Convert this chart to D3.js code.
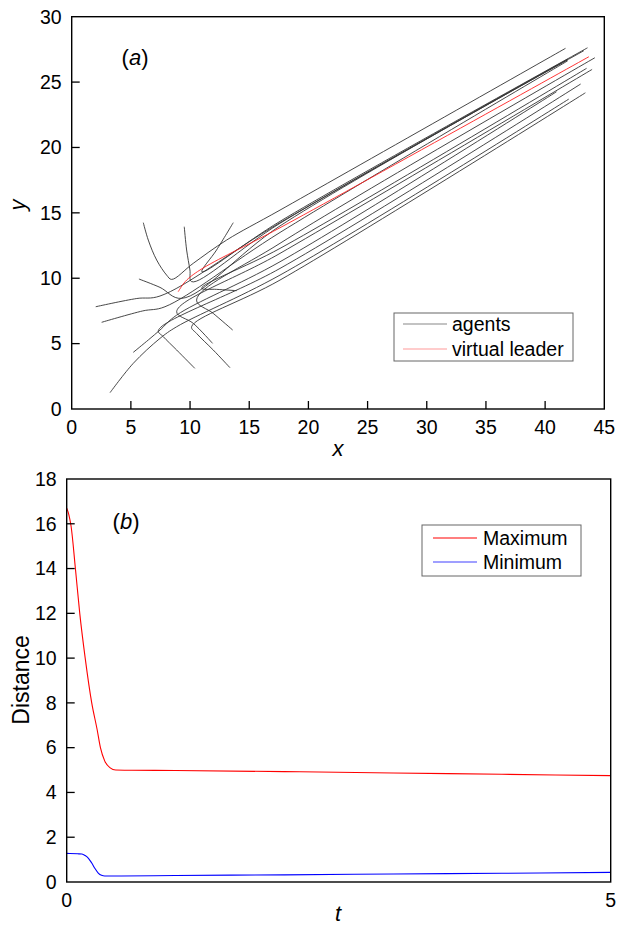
<!DOCTYPE html>
<html>
<head>
<meta charset="utf-8">
<script src="https://cdn.jsdelivr.net/npm/d3@7"></script>
<style>
  body { margin: 0; background: #fff; }
  svg { display: block; font-family: "Liberation Sans", Arial, sans-serif; }
</style>
</head>
<body>
<div id="container"></div>
<script>
// panel (a): agent trajectories, [x, y] points
const agentPaths = [
  [[6.05, 14.25], [6.47, 12.92], [7.18, 11.39], [8.02, 10.24], [8.44, 9.91], [10.27, 11.14], [13.09, 12.92], [17.6, 15.21], [41.72, 27.58]],
  [[9.51, 13.94], [9.71, 12.16], [9.99, 10.63], [10.13, 9.74], [17.6, 14.2], [41.9, 26.75]],
  [[13.65, 14.25], [12.24, 12.16], [11.0, 10.5], [17.6, 14.35], [43.58, 27.62]],
  [[5.68, 9.94], [7.46, 9.3], [9.29, 8.46], [17.6, 14.0], [41.9, 26.7]],
  [[2.03, 7.82], [5.5, 8.45], [7.46, 8.64], [17.6, 14.25], [43.27, 27.4]],
  [[2.53, 6.63], [6.0, 7.5], [7.88, 7.82], [17.6, 13.5], [41.9, 26.62]],
  [[5.2, 4.33], [6.5, 5.3], [7.46, 6.04], [8.87, 7.18], [17.6, 11.26], [40.96, 24.26]],
  [[3.24, 1.25], [5.2, 3.49], [7.46, 5.4], [8.87, 6.29], [17.6, 10.24], [42.0, 23.7]],
  [[10.4, 3.11], [8.87, 4.51], [7.74, 5.53], [7.32, 5.99], [17.6, 10.75], [43.0, 24.85]],
  [[13.37, 3.16], [11.96, 4.51], [10.55, 5.78], [10.13, 6.29], [17.6, 9.86], [43.4, 24.18]],
  [[11.9, 5.02], [10.27, 6.55], [8.87, 7.44], [17.6, 11.9], [43.97, 25.97]],
  [[13.94, 9.05], [12.24, 9.15], [10.98, 9.23], [17.6, 12.28], [43.5, 26.05]],
  [[13.6, 6.04], [11.96, 7.31], [10.55, 8.33], [17.6, 12.67], [44.2, 26.86]]
];
const leaderPath = [[9.0, 8.97], [9.6, 9.75], [10.84, 10.63], [17.6, 13.86], [43.7, 26.94]];
const xTicksA = [0, 5, 10, 15, 20, 25, 30, 35, 40, 45];
const yTicksA = [0, 5, 10, 15, 20, 25, 30];

// panel (b): distances over time
const maxT = [0, 0.02, 0.04, 0.08, 0.12, 0.17, 0.23, 0.28, 0.31, 0.35, 0.4, 0.45, 0.6, 1, 2, 3, 4, 5];
const maxValues = [16.7, 16.4, 15.9, 14.0, 12.0, 10.0, 8.0, 6.8, 6.0, 5.4, 5.1, 5.0, 4.99, 4.98, 4.93, 4.87, 4.81, 4.75];
const minT = [0, 0.1, 0.14, 0.17, 0.2, 0.23, 0.26, 0.29, 0.32, 0.35, 0.5, 1, 2, 3, 4, 5];
const minValues = [1.28, 1.26, 1.25, 1.18, 1.06, 0.85, 0.6, 0.4, 0.3, 0.27, 0.27, 0.29, 0.32, 0.36, 0.39, 0.43];
const xTicksB = [0, 5];
const yTicksB = [0, 2, 4, 6, 8, 10, 12, 14, 16, 18];

const width = 631;
const height = 929;
const fontSize = 19.5;
const tickLen = 8;

const svg = d3
  .select("#container")
  .append("svg")
  .attr("width", width)
  .attr("height", height);

// frame, inward ticks and tick labels
function drawFrame(g, x, y, xTicks, yTicks) {
  const [x0, x1] = x.range();
  const [y0, y1] = y.range();

  g.append("g")
    .selectAll("line")
    .data(xTicks.filter((d) => d !== x.domain()[0] && d !== x.domain()[1]))
    .enter()
    .append("line")
    .attr("x1", (d) => x(d))
    .attr("x2", (d) => x(d))
    .attr("y1", y0)
    .attr("y2", y0 - tickLen)
    .attr("stroke", "#000")
    .attr("stroke-width", 1.3);

  g.append("g")
    .selectAll("line")
    .data(yTicks.filter((d) => d !== y.domain()[0] && d !== y.domain()[1]))
    .enter()
    .append("line")
    .attr("x1", x0)
    .attr("x2", x0 + tickLen)
    .attr("y1", (d) => y(d))
    .attr("y2", (d) => y(d))
    .attr("stroke", "#000")
    .attr("stroke-width", 1.3);

  g.append("rect")
    .attr("x", x0)
    .attr("y", y1)
    .attr("width", x1 - x0)
    .attr("height", y0 - y1)
    .attr("fill", "none")
    .attr("stroke", "#000")
    .attr("stroke-width", 1.4);

  g.append("g")
    .selectAll("text")
    .data(xTicks)
    .enter()
    .append("text")
    .attr("x", (d) => x(d))
    .attr("y", y0 + 25)
    .attr("text-anchor", "middle")
    .style("font-size", fontSize + "px")
    .text((d) => d);

  g.append("g")
    .selectAll("text")
    .data(yTicks)
    .enter()
    .append("text")
    .attr("x", x0 - 10)
    .attr("y", (d) => y(d))
    .attr("dy", "0.35em")
    .attr("text-anchor", "end")
    .style("font-size", fontSize + "px")
    .text((d) => d);
}

// ---------- panel (a) ----------
const xA = d3.scaleLinear().domain([0, 45]).range([71.7, 604.3]);
const yA = d3.scaleLinear().domain([0, 30]).range([409, 16.7]);

const gA = svg.append("g");

svg.append("clipPath")
  .attr("id", "clipA")
  .append("rect")
  .attr("x", xA(0))
  .attr("y", yA(30))
  .attr("width", xA(45) - xA(0))
  .attr("height", yA(0) - yA(30));

const trajLine = d3
  .line()
  .x((d) => xA(d[0]))
  .y((d) => yA(d[1]))
  .curve(d3.curveCatmullRom.alpha(0.5));

gA.append("g")
  .attr("clip-path", "url(#clipA)")
  .selectAll("path")
  .data(agentPaths)
  .enter()
  .append("path")
  .attr("d", trajLine)
  .attr("fill", "none")
  .attr("stroke", "#333")
  .attr("stroke-width", 0.9);

gA.append("path")
  .datum(leaderPath)
  .attr("d", trajLine)
  .attr("fill", "none")
  .attr("stroke", "#ff2020")
  .attr("stroke-width", 0.9);

drawFrame(gA, xA, yA, xTicksA, yTicksA);

gA.append("text")
  .attr("x", 338)
  .attr("y", 456)
  .attr("text-anchor", "middle")
  .style("font-size", "22px")
  .style("font-style", "italic")
  .text("x");

gA.append("text")
  .attr("transform", "translate(25, 205) rotate(-90)")
  .attr("text-anchor", "middle")
  .style("font-size", "22px")
  .style("font-style", "italic")
  .text("y");

const labelA = gA.append("text")
  .attr("x", 135)
  .attr("y", 65)
  .attr("text-anchor", "middle")
  .style("font-size", "22px");
labelA.append("tspan").text("(");
labelA.append("tspan").style("font-style", "italic").text("a");
labelA.append("tspan").text(")");

// legend (a)
const legA = gA.append("g").attr("transform", "translate(394, 313)");
legA.append("rect")
  .attr("width", 179)
  .attr("height", 48)
  .attr("fill", "#fff")
  .attr("stroke", "#666")
  .attr("stroke-width", 1);
const legAItems = [
  { name: "agents", color: "#888" },
  { name: "virtual leader", color: "#ff9a9a" }
];
legAItems.forEach((d, i) => {
  legA.append("line")
    .attr("x1", 9).attr("x2", 53)
    .attr("y1", 11 + i * 25).attr("y2", 11 + i * 25)
    .attr("stroke", d.color)
    .attr("stroke-width", 1.2);
  legA.append("text")
    .attr("x", 58)
    .attr("y", 11 + i * 25)
    .attr("dy", "0.35em")
    .style("font-size", "19.5px")
    .text(d.name);
});

// ---------- panel (b) ----------
const xB = d3.scaleLinear().domain([0, 5]).range([66.7, 610.7]);
const yB = d3.scaleLinear().domain([0, 18]).range([882, 479]);

const gB = svg.append("g");

const maxData = maxT.map((t, i) => [t, maxValues[i]]);
const minData = minT.map((t, i) => [t, minValues[i]]);

const distLine = d3
  .line()
  .x((d) => xB(d[0]))
  .y((d) => yB(d[1]))
  .curve(d3.curveMonotoneX);

gB.append("path")
  .datum(maxData)
  .attr("d", distLine)
  .attr("fill", "none")
  .attr("stroke", "#ff0000")
  .attr("stroke-width", 1.1);

gB.append("path")
  .datum(minData)
  .attr("d", distLine)
  .attr("fill", "none")
  .attr("stroke", "#0000ff")
  .attr("stroke-width", 1.1);

drawFrame(gB, xB, yB, xTicksB, yTicksB);

gB.append("text")
  .attr("x", 338)
  .attr("y", 921)
  .attr("text-anchor", "middle")
  .style("font-size", "22px")
  .style("font-style", "italic")
  .text("t");

gB.append("text")
  .attr("transform", "translate(29, 680) rotate(-90)")
  .attr("text-anchor", "middle")
  .style("font-size", "23px")
  .text("Distance");

const labelB = gB.append("text")
  .attr("x", 126)
  .attr("y", 529)
  .attr("text-anchor", "middle")
  .style("font-size", "22px");
labelB.append("tspan").text("(");
labelB.append("tspan").style("font-style", "italic").text("b");
labelB.append("tspan").text(")");

// legend (b)
const legB = gB.append("g").attr("transform", "translate(422, 525)");
legB.append("rect")
  .attr("width", 159)
  .attr("height", 51)
  .attr("fill", "#fff")
  .attr("stroke", "#666")
  .attr("stroke-width", 1);
const legBItems = [
  { name: "Maximum", color: "#ff0000" },
  { name: "Minimum", color: "#4040ff" }
];
legBItems.forEach((d, i) => {
  legB.append("line")
    .attr("x1", 11).attr("x2", 55)
    .attr("y1", 13 + i * 24).attr("y2", 13 + i * 24)
    .attr("stroke", d.color)
    .attr("stroke-width", 1.2);
  legB.append("text")
    .attr("x", 61)
    .attr("y", 13 + i * 24)
    .attr("dy", "0.35em")
    .style("font-size", "19.5px")
    .text(d.name);
});
</script>
</body>
</html>
